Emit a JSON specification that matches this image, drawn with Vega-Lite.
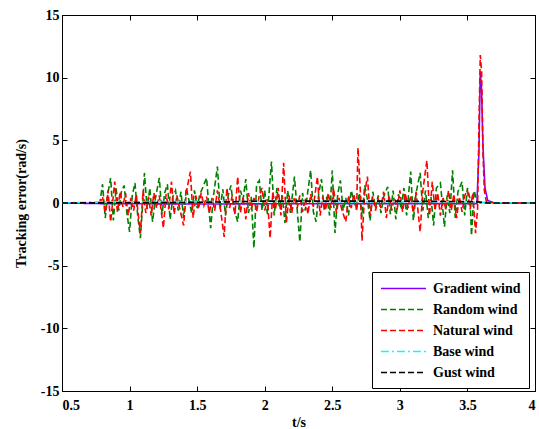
{
  "$schema": "https://vega.github.io/schema/vega-lite/v6.json",
  "width": 473,
  "height": 376,
  "autosize": {"type": "none"},
  "padding": {"left": 62, "top": 15, "right": 4, "bottom": 38},
  "background": "white",
  "config": {
    "view": {"stroke": "black", "strokeWidth": 1},
    "axis": {
      "grid": false,
      "domainColor": "black",
      "tickColor": "black",
      "labelColor": "black",
      "titleColor": "black",
      "labelFont": "Liberation Serif",
      "labelFontWeight": "bold",
      "labelFontSize": 14,
      "titleFont": "Liberation Serif",
      "titleFontWeight": "bold",
      "titleFontSize": 14,
      "tickSize": -5,
      "labelOverlap": false
    }
  },
  "data": {
    "values": [
      {"s": "Gradient wind", "t": 0.5, "v": 0},
      {"s": "Gradient wind", "t": 0.8, "v": -0.05},
      {"s": "Gradient wind", "t": 1.5, "v": -0.08},
      {"s": "Gradient wind", "t": 2.5, "v": -0.05},
      {"s": "Gradient wind", "t": 3.57, "v": -0.05},
      {"s": "Gradient wind", "t": 3.585, "v": 4},
      {"s": "Gradient wind", "t": 3.595, "v": 10.5},
      {"s": "Gradient wind", "t": 3.605, "v": 9},
      {"s": "Gradient wind", "t": 3.615, "v": 4.5},
      {"s": "Gradient wind", "t": 3.63, "v": 1.2},
      {"s": "Gradient wind", "t": 3.65, "v": 0.2},
      {"s": "Gradient wind", "t": 3.7, "v": 0},
      {"s": "Gradient wind", "t": 4, "v": 0},

      {"s": "Random wind", "t": 0.5, "v": 0},
      {"s": "Random wind", "t": 0.78, "v": 0},
      {"s": "Random wind", "t": 0.8, "v": 1.5},
      {"s": "Random wind", "t": 0.82, "v": -1.2},
      {"s": "Random wind", "t": 0.84, "v": 0.8},
      {"s": "Random wind", "t": 0.86, "v": 2.0},
      {"s": "Random wind", "t": 0.88, "v": -1.4},
      {"s": "Random wind", "t": 0.9, "v": 1.2},
      {"s": "Random wind", "t": 0.92, "v": -0.6},
      {"s": "Random wind", "t": 0.94, "v": 0.9},
      {"s": "Random wind", "t": 0.96, "v": 1.4},
      {"s": "Random wind", "t": 0.98, "v": -0.8},
      {"s": "Random wind", "t": 1.0, "v": -2.3},
      {"s": "Random wind", "t": 1.02, "v": 0.6},
      {"s": "Random wind", "t": 1.04, "v": 1.6},
      {"s": "Random wind", "t": 1.06, "v": -1.0},
      {"s": "Random wind", "t": 1.08, "v": -2.8},
      {"s": "Random wind", "t": 1.1, "v": 0.4},
      {"s": "Random wind", "t": 1.11, "v": 2.4},
      {"s": "Random wind", "t": 1.13, "v": -0.5},
      {"s": "Random wind", "t": 1.15, "v": 1.2},
      {"s": "Random wind", "t": 1.17, "v": -1.5},
      {"s": "Random wind", "t": 1.19, "v": 0.3},
      {"s": "Random wind", "t": 1.22, "v": 2.0},
      {"s": "Random wind", "t": 1.24, "v": -0.9},
      {"s": "Random wind", "t": 1.26, "v": 0.8},
      {"s": "Random wind", "t": 1.28, "v": 1.5},
      {"s": "Random wind", "t": 1.3, "v": -1.3},
      {"s": "Random wind", "t": 1.32, "v": 0.5},
      {"s": "Random wind", "t": 1.34, "v": 1.0},
      {"s": "Random wind", "t": 1.36, "v": -0.6},
      {"s": "Random wind", "t": 1.38, "v": 0.9},
      {"s": "Random wind", "t": 1.4, "v": -1.2},
      {"s": "Random wind", "t": 1.42, "v": 1.2},
      {"s": "Random wind", "t": 1.44, "v": 0.2},
      {"s": "Random wind", "t": 1.46, "v": -0.8},
      {"s": "Random wind", "t": 1.48, "v": 1.0},
      {"s": "Random wind", "t": 1.5, "v": -0.4},
      {"s": "Random wind", "t": 1.52, "v": 0.7},
      {"s": "Random wind", "t": 1.54, "v": 1.2},
      {"s": "Random wind", "t": 1.57, "v": 2.0},
      {"s": "Random wind", "t": 1.59, "v": -0.8},
      {"s": "Random wind", "t": 1.6, "v": -2.0},
      {"s": "Random wind", "t": 1.62, "v": 0.5},
      {"s": "Random wind", "t": 1.65, "v": 2.9},
      {"s": "Random wind", "t": 1.67, "v": -0.5},
      {"s": "Random wind", "t": 1.69, "v": 1.1},
      {"s": "Random wind", "t": 1.71, "v": -1.0},
      {"s": "Random wind", "t": 1.73, "v": 0.6},
      {"s": "Random wind", "t": 1.75, "v": 1.4},
      {"s": "Random wind", "t": 1.77, "v": -0.4},
      {"s": "Random wind", "t": 1.8, "v": -1.5},
      {"s": "Random wind", "t": 1.82, "v": 1.0},
      {"s": "Random wind", "t": 1.84, "v": 0.3},
      {"s": "Random wind", "t": 1.86, "v": 1.9},
      {"s": "Random wind", "t": 1.88, "v": -0.8},
      {"s": "Random wind", "t": 1.9, "v": 0.5},
      {"s": "Random wind", "t": 1.92, "v": -3.6},
      {"s": "Random wind", "t": 1.94, "v": 1.5},
      {"s": "Random wind", "t": 1.96, "v": 1.8},
      {"s": "Random wind", "t": 1.98, "v": -0.6},
      {"s": "Random wind", "t": 2.0, "v": 1.0},
      {"s": "Random wind", "t": 2.02, "v": -0.9},
      {"s": "Random wind", "t": 2.05, "v": 3.3},
      {"s": "Random wind", "t": 2.07, "v": -1.0},
      {"s": "Random wind", "t": 2.09, "v": 1.2},
      {"s": "Random wind", "t": 2.11, "v": -0.4},
      {"s": "Random wind", "t": 2.13, "v": 0.6},
      {"s": "Random wind", "t": 2.15, "v": -1.6},
      {"s": "Random wind", "t": 2.17, "v": 1.0},
      {"s": "Random wind", "t": 2.19, "v": -0.8},
      {"s": "Random wind", "t": 2.22, "v": 2.1},
      {"s": "Random wind", "t": 2.24, "v": -0.5},
      {"s": "Random wind", "t": 2.26, "v": -3.1},
      {"s": "Random wind", "t": 2.28, "v": 0.8},
      {"s": "Random wind", "t": 2.3, "v": -0.6},
      {"s": "Random wind", "t": 2.32, "v": 1.0},
      {"s": "Random wind", "t": 2.34, "v": 2.6},
      {"s": "Random wind", "t": 2.36, "v": -0.7},
      {"s": "Random wind", "t": 2.38, "v": -1.5},
      {"s": "Random wind", "t": 2.4, "v": 0.8},
      {"s": "Random wind", "t": 2.42, "v": 1.9},
      {"s": "Random wind", "t": 2.44, "v": -0.6},
      {"s": "Random wind", "t": 2.46, "v": 0.5},
      {"s": "Random wind", "t": 2.48, "v": -1.0},
      {"s": "Random wind", "t": 2.5, "v": 2.6},
      {"s": "Random wind", "t": 2.52, "v": -2.4},
      {"s": "Random wind", "t": 2.54, "v": 0.7},
      {"s": "Random wind", "t": 2.56, "v": 1.8},
      {"s": "Random wind", "t": 2.58, "v": -0.6},
      {"s": "Random wind", "t": 2.6, "v": 0.4},
      {"s": "Random wind", "t": 2.62, "v": -1.0},
      {"s": "Random wind", "t": 2.64, "v": 1.0},
      {"s": "Random wind", "t": 2.66, "v": 0.2},
      {"s": "Random wind", "t": 2.68, "v": -0.5},
      {"s": "Random wind", "t": 2.7, "v": 0.8},
      {"s": "Random wind", "t": 2.72, "v": -1.1},
      {"s": "Random wind", "t": 2.74, "v": 1.4},
      {"s": "Random wind", "t": 2.76, "v": 0.3},
      {"s": "Random wind", "t": 2.78, "v": -1.4},
      {"s": "Random wind", "t": 2.8, "v": 0.9},
      {"s": "Random wind", "t": 2.82, "v": -0.4},
      {"s": "Random wind", "t": 2.84, "v": 0.6},
      {"s": "Random wind", "t": 2.86, "v": -0.8},
      {"s": "Random wind", "t": 2.88, "v": 0.5},
      {"s": "Random wind", "t": 2.91, "v": 1.3},
      {"s": "Random wind", "t": 2.93, "v": -0.9},
      {"s": "Random wind", "t": 2.95, "v": 1.0},
      {"s": "Random wind", "t": 2.97, "v": -1.3},
      {"s": "Random wind", "t": 2.99, "v": 0.7},
      {"s": "Random wind", "t": 3.01, "v": -0.5},
      {"s": "Random wind", "t": 3.03, "v": 1.2},
      {"s": "Random wind", "t": 3.05, "v": -1.0},
      {"s": "Random wind", "t": 3.08, "v": 2.5},
      {"s": "Random wind", "t": 3.1, "v": -1.4},
      {"s": "Random wind", "t": 3.12, "v": 0.8},
      {"s": "Random wind", "t": 3.15, "v": 2.4},
      {"s": "Random wind", "t": 3.17, "v": -0.6},
      {"s": "Random wind", "t": 3.19, "v": 1.0},
      {"s": "Random wind", "t": 3.21, "v": -1.2},
      {"s": "Random wind", "t": 3.23, "v": 0.5},
      {"s": "Random wind", "t": 3.25, "v": -1.8},
      {"s": "Random wind", "t": 3.27, "v": 1.2},
      {"s": "Random wind", "t": 3.3, "v": 1.6},
      {"s": "Random wind", "t": 3.33, "v": -1.9},
      {"s": "Random wind", "t": 3.35, "v": 0.6},
      {"s": "Random wind", "t": 3.37, "v": -0.8},
      {"s": "Random wind", "t": 3.39, "v": 2.6},
      {"s": "Random wind", "t": 3.41, "v": -1.2},
      {"s": "Random wind", "t": 3.43, "v": 0.9},
      {"s": "Random wind", "t": 3.46, "v": 1.7},
      {"s": "Random wind", "t": 3.48, "v": -1.0},
      {"s": "Random wind", "t": 3.5, "v": 1.2},
      {"s": "Random wind", "t": 3.52, "v": 0.3},
      {"s": "Random wind", "t": 3.53, "v": -2.6},
      {"s": "Random wind", "t": 3.55, "v": 1.0},
      {"s": "Random wind", "t": 3.57, "v": 0.1},
      {"s": "Random wind", "t": 3.6, "v": 0},
      {"s": "Random wind", "t": 4, "v": 0},

      {"s": "Natural wind", "t": 0.5, "v": 0},
      {"s": "Natural wind", "t": 0.78, "v": 0},
      {"s": "Natural wind", "t": 0.8, "v": 0.5},
      {"s": "Natural wind", "t": 0.82, "v": -0.8},
      {"s": "Natural wind", "t": 0.84, "v": 1.0},
      {"s": "Natural wind", "t": 0.86, "v": -1.5},
      {"s": "Natural wind", "t": 0.88, "v": 0.6},
      {"s": "Natural wind", "t": 0.89, "v": 1.7},
      {"s": "Natural wind", "t": 0.91, "v": -0.7},
      {"s": "Natural wind", "t": 0.93, "v": 0.9},
      {"s": "Natural wind", "t": 0.95, "v": -0.3},
      {"s": "Natural wind", "t": 0.97, "v": 0.8},
      {"s": "Natural wind", "t": 0.99, "v": -1.0},
      {"s": "Natural wind", "t": 1.01, "v": 0.4},
      {"s": "Natural wind", "t": 1.03, "v": -0.6},
      {"s": "Natural wind", "t": 1.05, "v": 0.7},
      {"s": "Natural wind", "t": 1.06, "v": -0.5},
      {"s": "Natural wind", "t": 1.08, "v": -2.4},
      {"s": "Natural wind", "t": 1.1, "v": 1.0},
      {"s": "Natural wind", "t": 1.12, "v": -0.8},
      {"s": "Natural wind", "t": 1.14, "v": 0.5},
      {"s": "Natural wind", "t": 1.16, "v": -1.0},
      {"s": "Natural wind", "t": 1.18, "v": 0.8},
      {"s": "Natural wind", "t": 1.2, "v": -0.4},
      {"s": "Natural wind", "t": 1.22, "v": 0.6},
      {"s": "Natural wind", "t": 1.25, "v": -2.0},
      {"s": "Natural wind", "t": 1.27, "v": 0.7},
      {"s": "Natural wind", "t": 1.29, "v": -0.5},
      {"s": "Natural wind", "t": 1.31, "v": 1.7},
      {"s": "Natural wind", "t": 1.33, "v": -0.9},
      {"s": "Natural wind", "t": 1.35, "v": 0.6},
      {"s": "Natural wind", "t": 1.37, "v": -0.4},
      {"s": "Natural wind", "t": 1.4, "v": -1.8},
      {"s": "Natural wind", "t": 1.42, "v": 0.9},
      {"s": "Natural wind", "t": 1.45, "v": 2.5},
      {"s": "Natural wind", "t": 1.47, "v": -1.2},
      {"s": "Natural wind", "t": 1.49, "v": 0.6},
      {"s": "Natural wind", "t": 1.51, "v": -0.5},
      {"s": "Natural wind", "t": 1.53, "v": 0.8},
      {"s": "Natural wind", "t": 1.55, "v": -0.2},
      {"s": "Natural wind", "t": 1.57, "v": 0.5},
      {"s": "Natural wind", "t": 1.59, "v": -0.8},
      {"s": "Natural wind", "t": 1.61, "v": 0.4},
      {"s": "Natural wind", "t": 1.63, "v": -0.6},
      {"s": "Natural wind", "t": 1.65, "v": 1.0},
      {"s": "Natural wind", "t": 1.67, "v": -0.3},
      {"s": "Natural wind", "t": 1.7, "v": -2.7},
      {"s": "Natural wind", "t": 1.72, "v": 1.2},
      {"s": "Natural wind", "t": 1.74, "v": -0.4},
      {"s": "Natural wind", "t": 1.76, "v": 0.6},
      {"s": "Natural wind", "t": 1.78, "v": -0.9},
      {"s": "Natural wind", "t": 1.8, "v": 2.1},
      {"s": "Natural wind", "t": 1.82, "v": -0.8},
      {"s": "Natural wind", "t": 1.84, "v": 0.5},
      {"s": "Natural wind", "t": 1.86, "v": -1.3},
      {"s": "Natural wind", "t": 1.88, "v": 0.8},
      {"s": "Natural wind", "t": 1.9, "v": -0.5},
      {"s": "Natural wind", "t": 1.92, "v": 0.4},
      {"s": "Natural wind", "t": 1.94, "v": -0.7},
      {"s": "Natural wind", "t": 1.96, "v": 0.6},
      {"s": "Natural wind", "t": 1.98, "v": 1.2},
      {"s": "Natural wind", "t": 2.0, "v": -0.6},
      {"s": "Natural wind", "t": 2.02, "v": 0.3},
      {"s": "Natural wind", "t": 2.04, "v": -2.8},
      {"s": "Natural wind", "t": 2.06, "v": 0.9},
      {"s": "Natural wind", "t": 2.08, "v": -0.5},
      {"s": "Natural wind", "t": 2.1, "v": 1.2},
      {"s": "Natural wind", "t": 2.12, "v": -1.0},
      {"s": "Natural wind", "t": 2.14, "v": 3.2},
      {"s": "Natural wind", "t": 2.16, "v": -1.6},
      {"s": "Natural wind", "t": 2.18, "v": 0.6},
      {"s": "Natural wind", "t": 2.2, "v": -0.8},
      {"s": "Natural wind", "t": 2.22, "v": 0.5},
      {"s": "Natural wind", "t": 2.24, "v": -0.4},
      {"s": "Natural wind", "t": 2.26, "v": 0.6},
      {"s": "Natural wind", "t": 2.28, "v": -0.7},
      {"s": "Natural wind", "t": 2.3, "v": 0.4},
      {"s": "Natural wind", "t": 2.32, "v": -0.9},
      {"s": "Natural wind", "t": 2.34, "v": 0.7},
      {"s": "Natural wind", "t": 2.36, "v": -0.3},
      {"s": "Natural wind", "t": 2.39, "v": 2.1},
      {"s": "Natural wind", "t": 2.41, "v": -1.0},
      {"s": "Natural wind", "t": 2.43, "v": 0.5},
      {"s": "Natural wind", "t": 2.45, "v": -0.6},
      {"s": "Natural wind", "t": 2.47, "v": 0.8},
      {"s": "Natural wind", "t": 2.49, "v": -0.4},
      {"s": "Natural wind", "t": 2.51, "v": 1.2},
      {"s": "Natural wind", "t": 2.53, "v": -0.8},
      {"s": "Natural wind", "t": 2.55, "v": 0.4},
      {"s": "Natural wind", "t": 2.57, "v": -0.5},
      {"s": "Natural wind", "t": 2.6, "v": -1.5},
      {"s": "Natural wind", "t": 2.62, "v": 0.6},
      {"s": "Natural wind", "t": 2.64, "v": -0.4},
      {"s": "Natural wind", "t": 2.66, "v": 0.7},
      {"s": "Natural wind", "t": 2.68, "v": -0.6},
      {"s": "Natural wind", "t": 2.69, "v": 4.4},
      {"s": "Natural wind", "t": 2.71, "v": 0.5},
      {"s": "Natural wind", "t": 2.72, "v": -3.0},
      {"s": "Natural wind", "t": 2.74, "v": 0.8},
      {"s": "Natural wind", "t": 2.76, "v": 2.1},
      {"s": "Natural wind", "t": 2.78, "v": -1.0},
      {"s": "Natural wind", "t": 2.8, "v": 0.5},
      {"s": "Natural wind", "t": 2.82, "v": -0.6},
      {"s": "Natural wind", "t": 2.84, "v": 0.3},
      {"s": "Natural wind", "t": 2.86, "v": -0.4},
      {"s": "Natural wind", "t": 2.88, "v": 0.9},
      {"s": "Natural wind", "t": 2.9, "v": -1.2},
      {"s": "Natural wind", "t": 2.92, "v": 0.6},
      {"s": "Natural wind", "t": 2.94, "v": -0.6},
      {"s": "Natural wind", "t": 2.96, "v": 0.4},
      {"s": "Natural wind", "t": 2.98, "v": -0.5},
      {"s": "Natural wind", "t": 3.0, "v": 1.0},
      {"s": "Natural wind", "t": 3.02, "v": -0.7},
      {"s": "Natural wind", "t": 3.04, "v": 0.8},
      {"s": "Natural wind", "t": 3.06, "v": -0.4},
      {"s": "Natural wind", "t": 3.08, "v": 0.6},
      {"s": "Natural wind", "t": 3.1, "v": -0.8},
      {"s": "Natural wind", "t": 3.12, "v": 0.9},
      {"s": "Natural wind", "t": 3.15, "v": -2.3},
      {"s": "Natural wind", "t": 3.17, "v": 1.0},
      {"s": "Natural wind", "t": 3.2, "v": 3.4},
      {"s": "Natural wind", "t": 3.22, "v": -1.0},
      {"s": "Natural wind", "t": 3.24, "v": 1.7},
      {"s": "Natural wind", "t": 3.26, "v": -0.6},
      {"s": "Natural wind", "t": 3.28, "v": 0.8},
      {"s": "Natural wind", "t": 3.3, "v": -1.0},
      {"s": "Natural wind", "t": 3.32, "v": 0.4},
      {"s": "Natural wind", "t": 3.34, "v": -0.5},
      {"s": "Natural wind", "t": 3.36, "v": 1.0},
      {"s": "Natural wind", "t": 3.38, "v": -0.6},
      {"s": "Natural wind", "t": 3.4, "v": 0.7},
      {"s": "Natural wind", "t": 3.42, "v": -1.2},
      {"s": "Natural wind", "t": 3.44, "v": 0.5},
      {"s": "Natural wind", "t": 3.46, "v": -0.7},
      {"s": "Natural wind", "t": 3.48, "v": 0.6},
      {"s": "Natural wind", "t": 3.5, "v": 1.0},
      {"s": "Natural wind", "t": 3.52, "v": -0.5},
      {"s": "Natural wind", "t": 3.54, "v": 0.8},
      {"s": "Natural wind", "t": 3.56, "v": -2.4},
      {"s": "Natural wind", "t": 3.575, "v": -0.5},
      {"s": "Natural wind", "t": 3.585, "v": 6.0},
      {"s": "Natural wind", "t": 3.595, "v": 11.8},
      {"s": "Natural wind", "t": 3.605, "v": 10.5},
      {"s": "Natural wind", "t": 3.615, "v": 4.0},
      {"s": "Natural wind", "t": 3.625, "v": 1.0},
      {"s": "Natural wind", "t": 3.64, "v": 0.1},
      {"s": "Natural wind", "t": 3.7, "v": 0},
      {"s": "Natural wind", "t": 4, "v": 0},

      {"s": "Base wind", "t": 0.5, "v": 0},
      {"s": "Base wind", "t": 0.8, "v": 0.1},
      {"s": "Base wind", "t": 2.0, "v": 0.12},
      {"s": "Base wind", "t": 3.57, "v": 0.1},
      {"s": "Base wind", "t": 3.65, "v": 0.02},
      {"s": "Base wind", "t": 4, "v": 0},

      {"s": "Gust wind", "t": 0.5, "v": 0},
      {"s": "Gust wind", "t": 1.5, "v": 0.05},
      {"s": "Gust wind", "t": 2.0, "v": 0.15},
      {"s": "Gust wind", "t": 3.0, "v": 0.15},
      {"s": "Gust wind", "t": 3.57, "v": 0.1},
      {"s": "Gust wind", "t": 3.65, "v": 0},
      {"s": "Gust wind", "t": 4, "v": 0}
    ]
  },
  "layer": [
    {
      "mark": {"type": "line", "strokeWidth": 1.6, "clip": true},
      "encoding": {
        "x": {
          "field": "t", "type": "quantitative",
          "scale": {"domain": [0.5, 4], "nice": false, "zero": false},
          "axis": {"orient": "bottom", "values": [0.5, 1, 1.5, 2, 2.5, 3, 3.5, 4], "labelExpr": "'' + datum.value", "title": "t/s", "labelPadding": 12, "titlePadding": 3}
        },
        "y": {
          "field": "v", "type": "quantitative",
          "scale": {"domain": [-15, 15], "nice": false, "zero": false},
          "axis": {"orient": "left", "values": [-15, -10, -5, 0, 5, 10, 15], "labelExpr": "'' + datum.value", "title": "Tracking error(rad/s)", "labelPadding": 8, "titlePadding": 12}
        },
        "color": {
          "field": "s", "type": "nominal",
          "scale": {"domain": ["Gradient wind", "Random wind", "Natural wind", "Base wind", "Gust wind"], "range": ["#8000ff", "#008000", "#ff0000", "#00ffff", "#000000"]},
          "legend": {"orient": "none", "legendX": 310, "legendY": 257, "title": null, "strokeColor": "black", "fillColor": "white", "padding": 8, "symbolType": "M-1,0L5,0", "symbolSize": 225, "symbolStrokeWidth": 1.6, "labelFont": "Liberation Serif", "labelFontWeight": "bold", "labelFontSize": 14, "labelColor": "black", "labelOffset": 36, "rowPadding": 5, "cornerRadius": 0}
        },
        "strokeDash": {
          "field": "s", "type": "nominal",
          "scale": {"domain": ["Gradient wind", "Random wind", "Natural wind", "Base wind", "Gust wind"], "range": [[1, 0], [6, 3], [6, 3], [8, 3, 2, 3], [6, 3]]},
          "legend": {"orient": "none", "legendX": 310, "legendY": 257, "title": null, "strokeColor": "black", "fillColor": "white", "padding": 8, "symbolType": "M-1,0L5,0", "symbolSize": 225, "symbolStrokeWidth": 1.6, "labelFont": "Liberation Serif", "labelFontWeight": "bold", "labelFontSize": 14, "labelColor": "black", "labelOffset": 36, "rowPadding": 5, "cornerRadius": 0}
        }
      }
    },
    {
      "mark": {"type": "point", "opacity": 0},
      "encoding": {
        "x": {
          "field": "t", "type": "quantitative",
          "scale": {"domain": [0.5, 4], "nice": false, "zero": false},
          "axis": {"orient": "top", "values": [0.5, 1, 1.5, 2, 2.5, 3, 3.5, 4], "labels": false, "title": null}
        },
        "y": {
          "field": "v", "type": "quantitative",
          "scale": {"domain": [-15, 15], "nice": false, "zero": false},
          "axis": {"orient": "right", "values": [-15, -10, -5, 0, 5, 10, 15], "labels": false, "title": null}
        }
      }
    }
  ],
  "resolve": {"axis": {"x": "independent", "y": "independent"}}
}
